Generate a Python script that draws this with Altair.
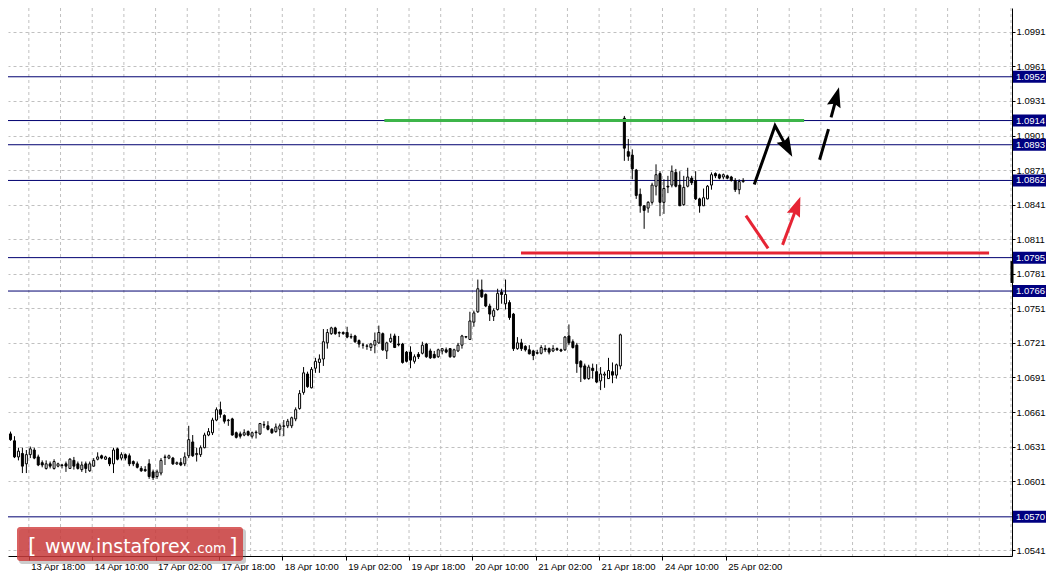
import altair as alt
import pandas as pd

# ---------------- data (EUR/USD H1 candles) ----------------
OPEN = [1.06415, 1.0642, 1.0636, 1.0622, 1.0625, 1.0616, 1.0624, 1.0628, 1.0622, 1.0617,
        1.0612, 1.0616, 1.0612, 1.0614, 1.06145, 1.0616, 1.0612, 1.0619, 1.0616, 1.0611,
        1.0616, 1.0610, 1.0614, 1.0620, 1.0623, 1.0620, 1.0621, 1.0616, 1.0629, 1.0621,
        1.0624, 1.0623, 1.0618, 1.0616, 1.0612, 1.0611, 1.0616, 1.0609, 1.0605, 1.0608,
        1.06215, 1.0621, 1.0621, 1.0616, 1.0617, 1.0616, 1.0623, 1.0635, 1.0624, 1.0624,
        1.0630, 1.0641, 1.0643, 1.0654, 1.0663, 1.0658, 1.06535, 1.0655, 1.0643, 1.0642,
        1.0641, 1.0644, 1.0640, 1.06435, 1.0642, 1.0650, 1.0649, 1.0646, 1.0644, 1.0646,
        1.06485, 1.0649, 1.0649, 1.0655, 1.0664, 1.0678, 1.0694, 1.0682, 1.0699, 1.0704,
        1.0707, 1.0721, 1.0729, 1.0734, 1.0730, 1.0730, 1.0730, 1.0726, 1.0727, 1.0723,
        1.0719, 1.0718, 1.0717, 1.0719, 1.0721, 1.0729, 1.0714, 1.0722, 1.0727, 1.0720,
        1.0720, 1.0713, 1.0713, 1.0705, 1.0711, 1.0712, 1.0720, 1.0714, 1.0711, 1.0709,
        1.0714, 1.0715, 1.0716, 1.0709, 1.0714, 1.0719, 1.0726, 1.0724, 1.0739, 1.0748,
        1.0767, 1.0763, 1.0753, 1.0744, 1.0750, 1.0765, 1.0755, 1.0756, 1.0746, 1.0716,
        1.0721, 1.0718, 1.0715, 1.0714, 1.07125, 1.0712, 1.0716, 1.0716, 1.0714, 1.0716,
        1.0715, 1.0715, 1.0727, 1.0722, 1.0719, 1.0705, 1.0701, 1.0690, 1.0699, 1.0696,
        1.0688, 1.0693, 1.0690, 1.0696, 1.0693, 1.0701, 1.0916, 1.0887, 1.0884, 1.0871,
        1.0850, 1.0840, 1.0838, 1.0843, 1.0857, 1.0868, 1.0843, 1.0857, 1.0858, 1.0869,
        1.0858, 1.0841, 1.0857, 1.0864, 1.0862, 1.0846, 1.0840, 1.0846, 1.0858, 1.0868,
        1.0867, 1.0865, 1.0866, 1.0865, 1.0862, 1.0854, 1.0861]
HIGH = [1.0647, 1.0644, 1.0640, 1.0630, 1.0630, 1.0628, 1.0631, 1.0630, 1.0624, 1.0619,
        1.0619, 1.0618, 1.0620, 1.0617, 1.0616, 1.0618, 1.0621, 1.0622, 1.0618, 1.0618,
        1.0618, 1.0618, 1.0621, 1.0626, 1.0624, 1.0623, 1.0622, 1.0630, 1.0630, 1.0626,
        1.0625, 1.0625, 1.0619, 1.0618, 1.0614, 1.0614, 1.0620, 1.0611, 1.0611, 1.0621,
        1.0624, 1.0624, 1.0622, 1.0618, 1.0621, 1.0626, 1.0649, 1.0641, 1.0630, 1.0632,
        1.0643, 1.0647, 1.0656, 1.0665, 1.0670, 1.0659, 1.0655, 1.0656, 1.0644, 1.0644,
        1.0646, 1.0645, 1.0644, 1.0645, 1.06515, 1.0653, 1.0653, 1.0647, 1.0651, 1.0651,
        1.0654, 1.0655, 1.0657, 1.0665, 1.0680, 1.0700, 1.0696, 1.0700, 1.0708, 1.0711,
        1.0733, 1.0733, 1.0735, 1.0735, 1.0731, 1.0731, 1.0735, 1.0729, 1.0728, 1.0724,
        1.0721, 1.0720, 1.0721, 1.0730, 1.0736, 1.0730, 1.0722, 1.0729, 1.0729, 1.0727,
        1.0721, 1.0714, 1.0718, 1.0711, 1.0713, 1.0722, 1.0721, 1.0716, 1.0714, 1.0716,
        1.07165, 1.0717, 1.07165, 1.0716, 1.0721, 1.0728, 1.0727, 1.0748, 1.0749, 1.0776,
        1.0776, 1.0764, 1.0755, 1.0751, 1.0768, 1.0768, 1.0776, 1.0758, 1.0747, 1.0726,
        1.07245, 1.0719, 1.0719, 1.0715, 1.0715, 1.0719, 1.0719, 1.0717, 1.0719, 1.0717,
        1.0716, 1.0727, 1.0737, 1.0724, 1.0721, 1.0706, 1.0703, 1.0702, 1.0703, 1.07025,
        1.0700, 1.0696, 1.0708, 1.0704, 1.0703, 1.0729, 1.0918, 1.0898, 1.0889, 1.0872,
        1.0855, 1.08404, 1.0844, 1.0860, 1.0876, 1.0870, 1.0863, 1.0866, 1.0875, 1.0872,
        1.0870, 1.0866, 1.0873, 1.0866, 1.0870, 1.0847, 1.0855, 1.0858, 1.0869, 1.0869,
        1.0868, 1.0868, 1.0867, 1.0866, 1.0864, 1.0863, 1.0864]
LOW = [1.0637, 1.0636, 1.0621, 1.0619, 1.0608, 1.0608, 1.0621, 1.0620, 1.0614, 1.0613,
       1.0611, 1.0612, 1.0611, 1.0613, 1.0612, 1.0609, 1.06115, 1.0611, 1.0611, 1.0609,
       1.0608, 1.0609, 1.06135, 1.0619, 1.0620, 1.06195, 1.0614, 1.0608, 1.0619, 1.0619,
       1.0619, 1.0614, 1.0614, 1.0612, 1.0609, 1.0609, 1.0603, 1.0602, 1.0603, 1.0606,
       1.0615, 1.0620, 1.0615, 1.0615, 1.0614, 1.0614, 1.0621, 1.0622, 1.0618, 1.0622,
       1.06295, 1.0640, 1.0641, 1.0653, 1.0656, 1.0651, 1.0649, 1.06405, 1.0638, 1.0638,
       1.0640, 1.0640, 1.0638, 1.0638, 1.0641, 1.0647, 1.0645, 1.0642, 1.0643, 1.0640,
       1.0640, 1.0647, 1.0647, 1.0653, 1.0663, 1.0676, 1.0682, 1.06815, 1.0695, 1.0695,
       1.0701, 1.0716, 1.0728, 1.0728, 1.0726, 1.0728, 1.0725, 1.07245, 1.0721, 1.0717,
       1.0716, 1.0715, 1.0714, 1.0712, 1.0720, 1.0714, 1.0707, 1.0721, 1.07165, 1.0718,
       1.0703, 1.0704, 1.0699, 1.0703, 1.0707, 1.0711, 1.0708, 1.0707, 1.07077, 1.0708,
       1.0711, 1.0712, 1.0708, 1.0708, 1.0713, 1.0716, 1.0725, 1.07236, 1.0735, 1.0747,
       1.0760, 1.0752, 1.0740, 1.0740, 1.0749, 1.0755, 1.0750, 1.0741, 1.0714, 1.0715,
       1.0714, 1.07135, 1.0711, 1.0706, 1.0711, 1.0711, 1.0713, 1.0711, 1.0713, 1.0714,
       1.0713, 1.0714, 1.0719, 1.0716, 1.0695, 1.0687, 1.0689, 1.0689, 1.0690, 1.0686,
       1.0680, 1.0682, 1.06898, 1.0686, 1.0690, 1.0698, 1.0879, 1.0879, 1.0863, 1.0846,
       1.0834, 1.0820, 1.0834, 1.0841, 1.0849, 1.0831, 1.0833, 1.0851, 1.0856, 1.0856,
       1.08398, 1.0840, 1.0856, 1.0858, 1.0845, 1.0834, 1.08398, 1.08456, 1.0854, 1.0864,
       1.0863, 1.0863, 1.0863, 1.0861, 1.0852, 1.0850, 1.0860]
CLOSE = [1.0641, 1.0637, 1.0622, 1.0627, 1.0614, 1.0624, 1.0629, 1.0621, 1.0615, 1.0615,
         1.0616, 1.0614, 1.0618, 1.0616, 1.0615, 1.0614, 1.0620, 1.0614, 1.0612, 1.0615,
         1.0612, 1.0616, 1.0619, 1.0622, 1.0621, 1.0622, 1.0616, 1.0628, 1.0620, 1.0624,
         1.0621, 1.0616, 1.0616, 1.0613, 1.0610, 1.0610, 1.0605, 1.0604, 1.0609, 1.0619,
         1.0622, 1.0623, 1.0616, 1.0617, 1.0615, 1.0622, 1.0637, 1.0623, 1.0625, 1.0630,
         1.0641, 1.0644, 1.0654, 1.0663, 1.0659, 1.0653, 1.0654, 1.0641, 1.0639, 1.0640,
         1.0643, 1.0641, 1.0643, 1.0643, 1.0651, 1.06497, 1.0646, 1.0643, 1.0648, 1.0649,
         1.0649, 1.0653, 1.0656, 1.0663, 1.0677, 1.0695, 1.0683, 1.0698, 1.0705, 1.0707,
         1.0722, 1.0730, 1.0734, 1.0729, 1.07295, 1.0729, 1.0726, 1.07265, 1.0722, 1.0720,
         1.07192, 1.07184, 1.0720, 1.0723, 1.0730, 1.0715, 1.0721, 1.0725, 1.0717, 1.07193,
         1.0704, 1.0705, 1.0706, 1.0709, 1.0709, 1.0719, 1.0709, 1.0708, 1.0708, 1.0715,
         1.0716, 1.0713, 1.0709, 1.0715, 1.0719, 1.0727, 1.07265, 1.0740, 1.0747, 1.0768,
         1.0761, 1.0753, 1.0746, 1.0749, 1.0764, 1.0763, 1.0763, 1.0743, 1.0716, 1.0721,
         1.0716, 1.0715, 1.07115, 1.0710, 1.0712, 1.0717, 1.0715, 1.0713, 1.0716, 1.0715,
         1.0714, 1.0726, 1.0721, 1.0717, 1.0703, 1.0700, 1.0690, 1.0700, 1.0697, 1.0687,
         1.0694, 1.06939, 1.0697, 1.0693, 1.0702, 1.0728, 1.0890, 1.0883, 1.0872, 1.0849,
         1.0840, 1.0836, 1.0843, 1.0858, 1.0867, 1.0843, 1.0855, 1.08563, 1.0870, 1.0857,
         1.0840, 1.0856, 1.0865, 1.0860, 1.0846, 1.0840, 1.0847, 1.0857, 1.0867, 1.0866,
         1.0864, 1.0867, 1.0864, 1.0862, 1.0854, 1.0861, 1.0862]

TIME_LABELS = ["13 Apr 18:00", "14 Apr 10:00", "17 Apr 02:00", "17 Apr 18:00",
               "18 Apr 10:00", "19 Apr 02:00", "19 Apr 18:00", "20 Apr 10:00",
               "21 Apr 02:00", "21 Apr 18:00", "24 Apr 10:00", "25 Apr 02:00"]
FIRST_LABEL_BAR = 5.625      # bar position of the first time label
BARS_PER_LABEL = 16          # one label every 16 hourly bars
BARS_PER_GRID = 8

PRICE_TICKS = [1.0541, 1.0601, 1.0631, 1.0661, 1.0691, 1.0721, 1.0751, 1.0781,
               1.0811, 1.0841, 1.0871, 1.0901, 1.0931, 1.0961, 1.0991, 1.1021]
LEVELS = [1.0952, 1.0914, 1.0893, 1.0862, 1.0795, 1.0766, 1.0570]

GREEN_LEVEL = 1.0914
GREEN_FROM, GREEN_TO = 95.4, 201.4
RED_LEVEL = 1.0799
RED_FROM, RED_TO = 129.9, 248.1

# hand-drawn forecast arrows: (segment, order, bar, price, colour)
ARROW_SEG = ["b1", "b1", "b1", "b2", "b2", "b3", "b3", "r1", "r1", "r2", "r2"]
ARROW_ORD = [0, 1, 2, 0, 1, 0, 1, 0, 1, 0, 1]
ARROW_BAR = [188.8, 194.05, 197.18, 205.3, 207.55, 208.2, 209.55, 186.7, 192.3, 195.95, 199.57]
ARROW_PRICE = [1.08584, 1.09095, 1.08897, 1.08800, 1.09066, 1.09167, 1.09338,
               1.08315, 1.08031, 1.08061, 1.08392]
ARROW_COL = ["black"] * 7 + ["#e62434"] * 4

# arrow tips
HEAD_BAR = [198.4, 210.2, 200.45]
HEAD_PRICE = [1.08826, 1.09429, 1.08479]
HEAD_ANGLE = [151.4, 15.3, 20.7]
HEAD_COL = ["black", "black", "#e62434"]

MARKER_TOP, MARKER_BOTTOM = 1.0792, 1.0773

# ---------------- build ----------------
FONT = "Liberation Sans"
W, H = 1004, 548
xs = alt.Scale(domain=[1.625, 252.625], nice=False, zero=False)
ys = alt.Scale(domain=[1.05360, 1.10117], nice=False, zero=False)

candles = pd.DataFrame({
    "k": list(range(len(OPEN))), "o": OPEN, "h": HIGH, "l": LOW, "c": CLOSE,
})
candles["dir"] = ["up" if c >= o else "down" for o, c in zip(OPEN, CLOSE)]

n_labels = len(TIME_LABELS)
label_ticks = [FIRST_LABEL_BAR + BARS_PER_LABEL * j for j in range(n_labels)]
grid_ticks = [FIRST_LABEL_BAR + BARS_PER_GRID * j for j in range(32)]
label_arr = "[" + ",".join("'" + s + "'" for s in TIME_LABELS) + "]"
label_expr = f"{label_arr}[round((datum.value - {FIRST_LABEL_BAR}) / {BARS_PER_LABEL})]"

XAX = alt.Axis(
    values=label_ticks, labelExpr=label_expr, grid=False, tickSize=4,
    labelAlign="left", labelOffset=2, labelPadding=1, labelBaseline="top",
    labelFont=FONT, labelFontSize=9.5, labelColor="black",
    domainColor="black", tickColor="black", title=None,
    labelOverlap=False, labelFlush=False, labelBound=False)
YAX = alt.Axis(
    orient="right", values=PRICE_TICKS, format=".4f", grid=True,
    gridDash=[3, 3], gridColor="#c0c0c0", tickSize=3, labelPadding=1,
    labelFont=FONT, labelFontSize=9.5, labelColor="black",
    domainColor="black", tickColor="black", title=None,
    labelOverlap=False, labelFlush=False, labelBound=False)


def X(f):
    return alt.X(f, scale=xs, axis=XAX)


def Y(f):
    return alt.Y(f, scale=ys, axis=YAX)


vgrid = alt.Chart(pd.DataFrame({"g": grid_ticks})).mark_rule(
    color="#c0c0c0", strokeDash=[3, 3], strokeWidth=1
).encode(x=X("g:Q"))

levels = alt.Chart(pd.DataFrame({"lv": LEVELS})).mark_rule(
    color="#000070", strokeWidth=1
).encode(y=Y("lv:Q"))

wicks = alt.Chart(candles).mark_rule(color="black", strokeWidth=1, clip=True).encode(
    x=X("k:Q"), y=Y("l:Q"), y2="h:Q",
)

bodies = alt.Chart(candles).mark_bar(size=2, stroke="black", strokeWidth=1, clip=True).encode(
    x=X("k:Q"), y=Y("o:Q"), y2="c:Q",
    fill=alt.Fill("dir:N", scale=alt.Scale(domain=["up", "down"], range=["white", "black"]),
                  legend=None),
)

green = alt.Chart(pd.DataFrame({"a": [GREEN_FROM], "b": [GREEN_TO], "p": [GREEN_LEVEL]})).mark_rule(
    color="#3db54a", strokeWidth=3
).encode(x=X("a:Q"), x2="b:Q", y=Y("p:Q"))

red = alt.Chart(pd.DataFrame({"a": [RED_FROM], "b": [RED_TO], "p": [RED_LEVEL]})).mark_rule(
    color="#e62434", strokeWidth=3
).encode(x=X("a:Q"), x2="b:Q", y=Y("p:Q"))

arrows_df = pd.DataFrame({"seg": ARROW_SEG, "i": ARROW_ORD, "k": ARROW_BAR,
                          "p": ARROW_PRICE, "col": ARROW_COL})
arrows = alt.Chart(arrows_df).mark_line(strokeWidth=3, strokeCap="butt", strokeJoin="miter").encode(
    x=X("k:Q"), y=Y("p:Q"),
    detail="seg:N",
    order="i:Q",
    color=alt.Color("col:N", scale=None),
)

heads_df = pd.DataFrame({"k": HEAD_BAR, "p": HEAD_PRICE, "a": HEAD_ANGLE, "col": HEAD_COL})
heads = alt.Chart(heads_df).mark_point(
    filled=True, opacity=1, size=650, shape="M0,0L-0.55,1.55L0,1.35L0.55,1.55Z"
).encode(
    x=X("k:Q"), y=Y("p:Q"),
    angle=alt.Angle("a:Q", scale=None),
    color=alt.Color("col:N", scale=None),
)

marker = alt.Chart(pd.DataFrame({"t": [MARKER_TOP], "b": [MARKER_BOTTOM]})).mark_rule(
    color="black", strokeWidth=3
).encode(x=alt.value(W), y=Y("t:Q"), y2="b:Q")

lv_df = pd.DataFrame({"lv": LEVELS, "txt": [f"{v:.4f}" for v in LEVELS]})
lv_box = alt.Chart(lv_df).mark_rect(color="#000080", yOffset=-6, y2Offset=6).encode(
    x=alt.value(W + 1), x2=alt.value(W + 34),
    y=Y("lv:Q"), y2="lv:Q",
)
lv_text = alt.Chart(lv_df).mark_text(
    color="white", font=FONT, fontSize=9.5, align="left", baseline="middle"
).encode(x=alt.value(W + 4), y=Y("lv:Q"), text="txt:N")

one = alt.Data(values=[{"a": 1}])
wm_shadow = alt.Chart(one).mark_rect(color="#555555", opacity=0.3, cornerRadius=3).encode(
    x=alt.value(11), x2=alt.value(238), y=alt.value(521), y2=alt.value(556))
wm_box = alt.Chart(one).mark_rect(color="#d03a3a", opacity=0.8, cornerRadius=3).encode(
    x=alt.value(9), x2=alt.value(235), y=alt.value(519), y2=alt.value(553))
wm_lb = alt.Chart(one).mark_text(text="[", font="DejaVu Sans", fontSize=22, color="white",
                                 align="left", baseline="alphabetic").encode(
    x=alt.value(20), y=alt.value(545))
wm_main = alt.Chart(one).mark_text(text="www.instaforex", font="DejaVu Sans", fontSize=19,
                                   color="white", align="left", baseline="alphabetic").encode(
    x=alt.value(37), y=alt.value(545))
wm_com = alt.Chart(one).mark_text(text=".com", font="DejaVu Sans", fontSize=13.5,
                                  color="white", align="left", baseline="alphabetic").encode(
    x=alt.value(185), y=alt.value(545))
wm_rb = alt.Chart(one).mark_text(text="]", font="DejaVu Sans", fontSize=22, color="white",
                                 align="left", baseline="alphabetic").encode(
    x=alt.value(221), y=alt.value(545))

chart = alt.layer(
    vgrid, levels, wicks, bodies, green, red, arrows, heads, marker,
    lv_box, lv_text, wm_shadow, wm_box, wm_lb, wm_main, wm_com, wm_rb,
).properties(
    width=W, height=H,
    autosize=alt.AutoSizeParams(type="none"),
    padding={"left": 0, "top": 0, "right": 35, "bottom": 15},
    background="white",
).configure_view(stroke=None)

chart.save("out.html", embed_options={"renderer": "svg", "actions": False})
